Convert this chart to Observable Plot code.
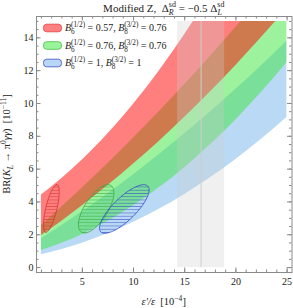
<!DOCTYPE html>
<html><head><meta charset="utf-8">
<script src="https://cdn.jsdelivr.net/npm/d3@7"></script>
<script src="https://cdn.jsdelivr.net/npm/@observablehq/plot@0.6"></script>
<style>body{margin:0;background:#fff} svg{display:block}</style>
</head><body><div id="chart"></div>
<script>
// epsilon'/epsilon sample positions [10^-4]
const eps = [1, 3, 5, 7.5, 10, 12.5, 15, 17.5, 20, 22.5, 25];
// band edges, BR [10^-11]
const redUpper   = [4.43, 5.43, 6.55, 8.15, 9.96, 11.97, 14.2, 16.63, 19.27, 22.1, 25.2];
const redLower   = [1.95, 2.83, 3.76, 5.0, 6.31, 7.69, 9.16, 10.7, 12.32, 14.02, 15.79];
const greenUpper = [2.56, 3.69, 4.85, 6.34, 7.9, 9.5, 11.16, 12.87, 14.64, 16.46, 18.33];
const greenLower = [1.04, 1.48, 2.02, 2.82, 3.76, 4.86, 6.09, 7.48, 9.0, 10.68, 12.5];
const blueUpper  = [1.75, 2.56, 3.4, 4.5, 5.66, 6.88, 8.15, 9.48, 10.86, 12.3, 13.8];
const blueLower  = [0.78, 1.1, 1.49, 2.07, 2.76, 3.55, 4.46, 5.47, 6.59, 7.82, 9.16];

// hatched ellipses: centre, topmost point, horizontal half-width through centre
const ellipseNames = ["red", "green", "blue"];
const ellipseCX = [1.97, 6.35, 9.1];
const ellipseCY = [3.6, 3.58, 3.57];
const ellipseTopX = [2.5, 7.5, 11.0];
const ellipseTopY = [5.05, 5.05, 5.05];
const ellipseHalfW = [0.56, 1.3, 1.5];

// experimental epsilon'/epsilon
const expCentral = 16.6, expLow = 14.3, expHigh = 18.9;
const brMin = 0, brMax = 15, epsMax = 25;

// legend
const legendB6 = ["0.57", "0.76", "1"];
const legendB8 = ["0.76", "0.76", "1"];

const xMajor = [5, 10, 15, 20, 25];
const xMinor = d3.range(1, 26);
const yMajor = [0, 2, 4, 6, 8, 10, 12, 14];
const yMinor = d3.range(0, 15.01, 0.5);

const bands = eps.map((x, i) => ({x, rt: redUpper[i], rb: redLower[i], gt: greenUpper[i], gb: greenLower[i], bt: blueUpper[i], bb: blueLower[i]}));

const ellipsePts = [];
ellipseNames.forEach((n, k) => {
  for (let j = 0; j < 120; j++) {
    const t = 2 * Math.PI * j / 120;
    ellipsePts.push({n, x: ellipseCX[k] + (ellipseTopX[k] - ellipseCX[k]) * Math.cos(t) + ellipseHalfW[k] * Math.sin(t),
                        y: ellipseCY[k] + (ellipseTopY[k] - ellipseCY[k]) * Math.cos(t)});
  }
});

const col = {
  red:   {fill: "rgb(255,0,0)", op: 0.5, hatch: "rgb(215,45,45)", sw: "rgb(255,128,128)", swStroke: "rgb(225,60,60)"},
  green: {fill: "rgb(60,230,60)", op: 0.5, hatch: "rgb(60,170,60)", sw: "rgb(155,243,155)", swStroke: "rgb(70,190,70)"},
  blue:  {fill: "rgb(100,170,230)", op: 0.45, hatch: "rgb(50,70,200)", sw: "rgb(183,216,244)", swStroke: "rgb(60,75,200)"}
};

function rich(text, parts, fs) {
  const sm = fs * 0.72;
  let cur = 0;
  for (const p of parts) {
    const o = typeof p === "string" ? {t: p} : p;
    if (o.t !== undefined) {
      const ts = text.append("tspan").attr("dy", -cur).text(o.t);
      if (o.i) ts.attr("font-style", "italic");
      cur = 0;
    } else {
      if (o.sub !== undefined) {
        const d = fs * 0.3;
        const ts = text.append("tspan").attr("dy", d - cur).attr("font-size", sm).text(o.sub);
        if (o.subI) ts.attr("font-style", "italic");
        cur = d;
      }
      if (o.sup !== undefined) {
        const d = -fs * 0.42;
        const ts = text.append("tspan").attr("dy", d - cur).attr("font-size", sm).text(o.sup);
        if (o.sub !== undefined) ts.attr("dx", -(o.subW || 0.5) * sm);
        cur = d;
      }
    }
  }
}

function defsMark(index, scales) {
  const defs = d3.create("svg:defs");
  for (const n of ellipseNames) {
    const p = defs.append("pattern").attr("id", "hatch-" + n).attr("patternUnits", "userSpaceOnUse")
      .attr("width", 8).attr("height", 3.25);
    p.append("line").attr("x1", 0).attr("x2", 8).attr("y1", 1.2).attr("y2", 1.2)
      .attr("stroke", col[n].hatch).attr("stroke-width", 0.55);
  }
  const x0 = scales.x(0.52), x1 = scales.x(epsMax), y0 = scales.y(-0.3), y1 = scales.y(brMax);
  defs.append("clipPath").attr("id", "bandClip").append("rect")
    .attr("x", x0).attr("y", y1).attr("width", x1 - x0).attr("height", y0 - y1);
  return defs.node();
}

function annotations(index, scales, values, dim) {
  const g = d3.create("svg:g").attr("font-family", "Liberation Serif").attr("fill", "#222").attr("text-anchor", "start");
  const cx = (dim.marginLeft + dim.width - dim.marginRight) / 2;
  const cy = (dim.marginTop + dim.height - dim.marginBottom) / 2;
  // title
  const t = g.append("text").attr("x", cx).attr("y", 12).attr("text-anchor", "middle").attr("font-size", 11);
  rich(t, ["Modified Z,  Δ", {sub: "R", subI: true, sup: "sd", subW: 0.61}, " = −0.5 Δ", {sub: "L", subI: true, sup: "sd", subW: 0.56}], 11);
  // y label
  const yl = g.append("text").attr("transform", `translate(10,${cy}) rotate(-90)`).attr("text-anchor", "middle").attr("font-size", 10.5);
  rich(yl, ["BR(", {t: "K", i: true}, {sub: "L", subI: true}, " → π", {sup: "0"}, {t: "γγ", i: true}, ")  [10", {sup: "−11"}, "]"], 10.5);
  // x label
  const xl = g.append("text").attr("x", cx).attr("y", 305).attr("text-anchor", "middle").attr("font-size", 10.5);
  rich(xl, [{t: "ε′/ε", i: true}, "  [10", {sup: "−4"}, "]"], 10.5);
  // legend
  ellipseNames.forEach((n, k) => {
    const yc = 28 + k * 17.5;
    g.append("rect").attr("x", 43.5).attr("y", yc - 3.8).attr("width", 18).attr("height", 7.6).attr("rx", 3.2)
      .attr("fill", col[n].sw).attr("stroke", col[n].swStroke).attr("stroke-width", 0.8);
    const tx = g.append("text").attr("x", 65).attr("y", yc + 3.4).attr("font-size", 10).attr("text-anchor", "start");
    rich(tx, [{t: "B", i: true}, {sub: "6", sup: "(1/2)", subW: 0.5}, " = " + legendB6[k] + ", ",
              {t: "B", i: true}, {sub: "8", sup: "(3/2)", subW: 0.5}, " = " + legendB8[k]], 10);
  });
  return g.node();
}

const fh = 308 - 16 - 36, fw = 293 - 36 - 1.5;
const tickCol = "#8a8a8a";

const plot = Plot.plot({
  width: 293, height: 308,
  marginLeft: 36, marginRight: 1.5, marginTop: 16, marginBottom: 36,
  x: {domain: [0.52, 25.48]},
  y: {domain: [-0.3, 15.3]},
  style: {fontFamily: "Liberation Serif", fontSize: "10px", background: "white", color: "#222"},
  marks: [
    defsMark,
    Plot.areaY(bands, {x: "x", y1: "bb", y2: "bt", fill: col.blue.fill, fillOpacity: col.blue.op, curve: "monotone-x"}),
    Plot.areaY(bands, {x: "x", y1: "gb", y2: "gt", fill: col.green.fill, fillOpacity: col.green.op, curve: "monotone-x"}),
    Plot.areaY(bands, {x: "x", y1: "rb", y2: "rt", fill: col.red.fill, fillOpacity: col.red.op, curve: "monotone-x"}),
    Plot.rect([{lo: expLow, hi: expHigh}], {x1: "lo", x2: "hi", y1: () => brMin, y2: () => brMax, fill: "rgb(205,205,205)", fillOpacity: 0.3}),
    Plot.ruleX([expCentral], {y1: brMin, y2: brMax, stroke: "rgb(205,205,205)", strokeWidth: 1}),
    ...ellipseNames.map(n => Plot.line(ellipsePts.filter(d => d.n === n), {x: "x", y: "y", curve: "linear-closed",
      fill: `url(#hatch-${n})`, stroke: col[n].hatch, strokeWidth: 0.8})),
    Plot.frame({stroke: tickCol, strokeWidth: 1}),
    Plot.ruleX(xMinor, {stroke: tickCol, insetTop: fh - 2.5}),
    Plot.ruleX(xMinor, {stroke: tickCol, insetBottom: fh - 2.5}),
    Plot.ruleX(xMajor, {stroke: tickCol, insetTop: fh - 4.5}),
    Plot.ruleX(xMajor, {stroke: tickCol, insetBottom: fh - 4.5}),
    Plot.ruleY(yMinor, {stroke: tickCol, insetRight: fw - 2.5}),
    Plot.ruleY(yMinor, {stroke: tickCol, insetLeft: fw - 2.5}),
    Plot.ruleY(yMajor, {stroke: tickCol, insetRight: fw - 4.5}),
    Plot.ruleY(yMajor, {stroke: tickCol, insetLeft: fw - 4.5}),
    Plot.axisX({ticks: xMajor, tickSize: 0, tickPadding: 5, label: null, fontSize: 10}),
    Plot.axisY({ticks: yMajor, tickSize: 0, tickPadding: 3, label: null, fontSize: 10}),
    annotations
  ]
});
d3.select(plot).selectAll('g[aria-label="area"]').attr("clip-path", "url(#bandClip)");
document.getElementById("chart").appendChild(plot);
</script>
</body></html>
